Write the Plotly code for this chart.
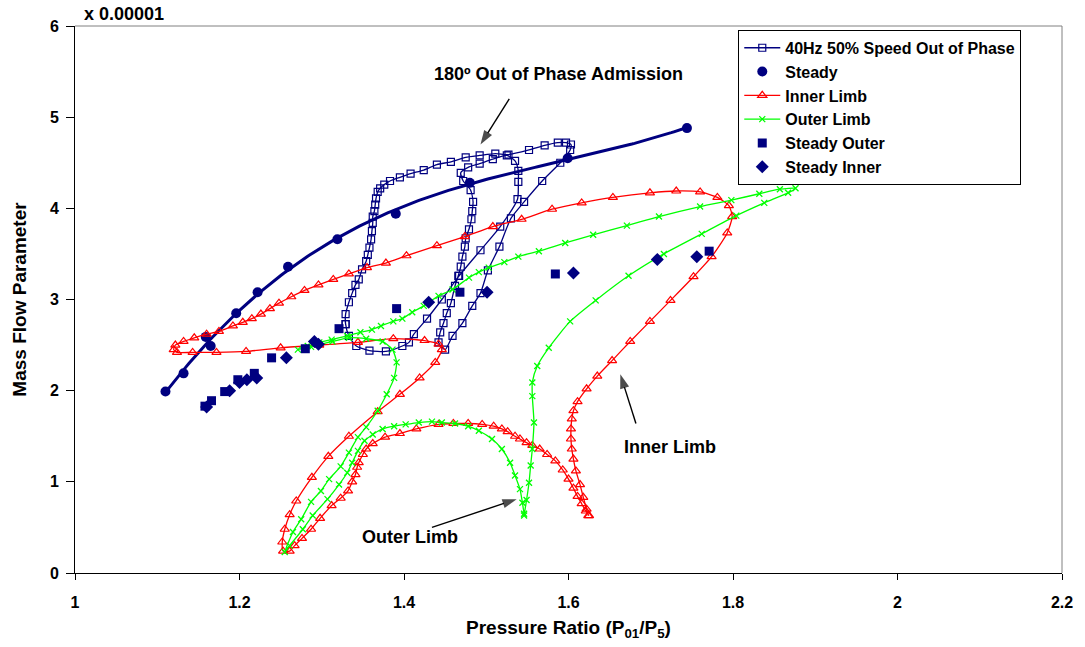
import numpy as np
import plotly.graph_objects as go

# ---------------- data ----------------
loop_x = [1.329, 1.329, 1.333, 1.337, 1.341, 1.345, 1.349, 1.354, 1.356, 1.358, 1.360, 1.361, 1.362, 1.362,
          1.364, 1.365, 1.366, 1.368, 1.371, 1.376, 1.383, 1.395, 1.408, 1.424, 1.440, 1.457, 1.475, 1.492,
          1.511, 1.527, 1.552, 1.571, 1.587, 1.597, 1.603, 1.602, 1.590, 1.568, 1.546, 1.530, 1.516, 1.502,
          1.493, 1.483, 1.471, 1.459, 1.450, 1.442, 1.444, 1.448, 1.452, 1.457, 1.462, 1.466, 1.469, 1.471,
          1.474, 1.475, 1.479, 1.482, 1.483, 1.484, 1.481, 1.472, 1.469, 1.478, 1.492, 1.508, 1.525, 1.535,
          1.539, 1.539, 1.538, 1.517, 1.493, 1.467, 1.446, 1.428, 1.412, 1.406, 1.398, 1.378, 1.358, 1.342,
          1.333, 1.329]
loop_y = [2.73, 2.84, 2.97, 3.07, 3.16, 3.22, 3.33, 3.42, 3.49, 3.57, 3.66, 3.75, 3.84, 3.91,
          3.97, 4.04, 4.11, 4.18, 4.22, 4.26, 4.30, 4.34, 4.38, 4.42, 4.48, 4.51, 4.56, 4.58,
          4.60, 4.59, 4.64, 4.69, 4.72, 4.72, 4.70, 4.64, 4.50, 4.30, 4.07, 3.89, 3.58, 3.32,
          3.07, 2.93, 2.74, 2.60, 2.45, 2.53, 2.64, 2.74, 2.85, 2.96, 3.15, 3.26, 3.36, 3.47,
          3.58, 3.67, 3.77, 3.88, 3.97, 4.07, 4.20, 4.30, 4.39, 4.45, 4.49, 4.54, 4.58, 4.52,
          4.41, 4.29, 4.10, 3.80, 3.54, 3.26, 3.00, 2.79, 2.62, 2.53, 2.49, 2.43, 2.44, 2.49,
          2.60, 2.73]

steady_x = [1.110, 1.132, 1.159, 1.165, 1.196, 1.222, 1.259, 1.319, 1.390, 1.480, 1.599, 1.744]
steady_y = [1.99, 2.19, 2.59, 2.49, 2.85, 3.08, 3.36, 3.66, 3.94, 4.28, 4.55, 4.88]

inner_x = [1.624, 1.622, 1.618, 1.614, 1.609, 1.606, 1.604, 1.603, 1.603, 1.604, 1.606, 1.611, 1.622, 1.635,
           1.653, 1.675, 1.699, 1.724, 1.752, 1.774, 1.793, 1.799, 1.795, 1.781, 1.760, 1.731, 1.699, 1.654,
           1.616, 1.580, 1.543, 1.508, 1.474, 1.440, 1.403, 1.378, 1.355, 1.333, 1.314, 1.296, 1.279, 1.263,
           1.248, 1.237, 1.226, 1.215, 1.204, 1.192, 1.175, 1.160, 1.145, 1.132, 1.122, 1.120, 1.124, 1.143,
           1.172, 1.208, 1.250, 1.297, 1.344, 1.387, 1.425, 1.442, 1.446, 1.438, 1.419, 1.395, 1.368, 1.333,
           1.308, 1.288, 1.269, 1.261, 1.255, 1.252, 1.253, 1.261, 1.267, 1.276, 1.287, 1.298, 1.312, 1.323,
           1.332, 1.337, 1.341, 1.343, 1.345, 1.350, 1.354, 1.362, 1.377, 1.395, 1.415, 1.442, 1.460, 1.478,
           1.495, 1.509, 1.519, 1.526, 1.535, 1.541, 1.549, 1.556, 1.565, 1.574, 1.584, 1.593, 1.600, 1.606,
           1.611, 1.616, 1.621, 1.625]
inner_y = [0.63, 0.70, 0.83, 0.97, 1.12, 1.25, 1.36, 1.47, 1.58, 1.69, 1.78, 1.88, 2.02, 2.16,
           2.33, 2.54, 2.76, 2.99, 3.25, 3.47, 3.73, 3.91, 4.03, 4.12, 4.18, 4.19, 4.17, 4.12,
           4.06, 3.99, 3.88, 3.80, 3.69, 3.59, 3.48, 3.40, 3.35, 3.28, 3.22, 3.16, 3.10, 3.03,
           2.96, 2.90, 2.84, 2.79, 2.75, 2.71, 2.65, 2.62, 2.58, 2.54, 2.50, 2.45, 2.42, 2.42,
           2.42, 2.43, 2.47, 2.50, 2.53, 2.57, 2.55, 2.51, 2.45, 2.31, 2.14, 1.96, 1.77, 1.50,
           1.28, 1.05, 0.79, 0.64, 0.48, 0.34, 0.24, 0.24, 0.30, 0.38, 0.48, 0.60, 0.74, 0.82,
           0.90, 1.00, 1.08, 1.16, 1.21, 1.30, 1.36, 1.42, 1.49, 1.53, 1.58, 1.63, 1.64, 1.64,
           1.63, 1.61, 1.58, 1.55, 1.50, 1.47, 1.43, 1.40, 1.36, 1.30, 1.23, 1.13, 1.03, 0.93,
           0.84, 0.76, 0.68, 0.63]

outer_x = [1.546, 1.549, 1.552, 1.554, 1.556, 1.558, 1.556, 1.556, 1.562, 1.576, 1.602, 1.633, 1.673, 1.716,
           1.762, 1.804, 1.838, 1.867, 1.876, 1.857, 1.832, 1.798, 1.760, 1.710, 1.671, 1.630, 1.596, 1.564,
           1.539, 1.522, 1.503, 1.491, 1.479, 1.459, 1.442, 1.424, 1.410, 1.398, 1.387, 1.372, 1.361, 1.347,
           1.331, 1.312, 1.297, 1.283, 1.271, 1.287, 1.313, 1.333, 1.354, 1.374, 1.386, 1.391, 1.388, 1.379,
           1.368, 1.354, 1.344, 1.333, 1.323, 1.309, 1.299, 1.287, 1.275, 1.265, 1.255, 1.261, 1.277, 1.289,
           1.307, 1.321, 1.331, 1.337, 1.344, 1.352, 1.362, 1.374, 1.388, 1.402, 1.418, 1.434, 1.446, 1.462,
           1.478, 1.491, 1.507, 1.519, 1.529, 1.535, 1.541, 1.544, 1.546]
outer_y = [0.63, 0.80, 0.99, 1.18, 1.36, 1.65, 1.94, 2.09, 2.27, 2.47, 2.76, 2.99, 3.26, 3.50,
           3.72, 3.92, 4.06, 4.17, 4.22, 4.21, 4.16, 4.09, 4.02, 3.91, 3.81, 3.71, 3.62, 3.53,
           3.47, 3.41, 3.35, 3.30, 3.24, 3.11, 3.04, 2.93, 2.86, 2.79, 2.76, 2.71, 2.67, 2.64,
           2.60, 2.56, 2.53, 2.49, 2.45, 2.48, 2.54, 2.58, 2.57, 2.54, 2.45, 2.31, 2.14, 1.96,
           1.78, 1.60, 1.49, 1.32, 1.17, 1.03, 0.90, 0.78, 0.59, 0.45, 0.23, 0.30, 0.48, 0.63,
           0.81, 0.97, 1.10, 1.21, 1.34, 1.45, 1.52, 1.58, 1.61, 1.63, 1.65, 1.66, 1.65, 1.64,
           1.61, 1.56, 1.47, 1.36, 1.21, 1.07, 0.92, 0.77, 0.65]

steady_outer_x = [1.158, 1.166, 1.182, 1.198, 1.218, 1.239, 1.280, 1.321, 1.391, 1.468, 1.584, 1.771]
steady_outer_y = [1.83, 1.89, 1.99, 2.12, 2.19, 2.36, 2.46, 2.68, 2.90, 3.08, 3.28, 3.53]

steady_inner_x = [1.160, 1.188, 1.200, 1.209, 1.221, 1.257, 1.291, 1.296, 1.430, 1.501, 1.606, 1.708, 1.756]
steady_inner_y = [1.82, 2.00, 2.09, 2.12, 2.14, 2.36, 2.54, 2.51, 2.97, 3.08, 3.29, 3.44, 3.47]

x_ticks = [1, 1.2, 1.4, 1.6, 1.8, 2, 2.2]
x_tick_text = ["1", "1.2", "1.4", "1.6", "1.8", "2", "2.2"]
y_ticks = [0, 1, 2, 3, 4, 5, 6]

# annotation arrows: (tail, head)
arrow_180 = ([1.528, 1.493], [5.20, 4.70])
arrow_inner = ([1.682, 1.663], [1.64, 2.18])
arrow_outer = ([1.434, 1.537], [0.50, 0.81])

# ---------------- figure ----------------
NAVY = "#000080"
RED = "#FF0000"
GREEN = "#00FF00"
FONT = "Arial, Liberation Sans, sans-serif"

fig = go.Figure()

fig.add_trace(go.Scatter(
    x=loop_x, y=loop_y, name="40Hz 50% Speed Out of Phase", mode="lines+markers",
    line=dict(color=NAVY, width=1.3, shape="spline", smoothing=0.6),
    marker=dict(symbol="square-open", size=7, color=NAVY, line=dict(width=1.2, color=NAVY)),
))

fig.add_trace(go.Scatter(
    x=steady_x, y=steady_y, name="Steady", mode="markers",
    marker=dict(symbol="circle", size=10, color=NAVY),
))

# trendline through the steady points
coef = np.polyfit(steady_x, steady_y, 3)
tx = np.linspace(min(steady_x), max(steady_x), 200)
fig.add_trace(go.Scatter(
    x=tx, y=np.polyval(coef, tx), mode="lines", showlegend=False, hoverinfo="skip",
    line=dict(color=NAVY, width=3),
))

fig.add_trace(go.Scatter(
    x=inner_x, y=inner_y, name="Inner Limb", mode="lines+markers",
    line=dict(color=RED, width=1.3, shape="spline", smoothing=0.6),
    marker=dict(symbol="triangle-up-open", size=8, color=RED, line=dict(width=1.2, color=RED)),
))

fig.add_trace(go.Scatter(
    x=outer_x, y=outer_y, name="Outer Limb", mode="lines+markers",
    line=dict(color=GREEN, width=1.3, shape="spline", smoothing=0.6),
    marker=dict(symbol="x-thin-open", size=6, color=GREEN, line=dict(width=1.3, color=GREEN)),
))

fig.add_trace(go.Scatter(
    x=steady_outer_x, y=steady_outer_y, name="Steady Outer", mode="markers",
    marker=dict(symbol="square", size=9, color=NAVY),
))

fig.add_trace(go.Scatter(
    x=steady_inner_x, y=steady_inner_y, name="Steady Inner", mode="markers",
    marker=dict(symbol="diamond", size=10, color=NAVY),
))

# arrows drawn as line + arrow-head marker
for ax_, ay_ in (arrow_180, arrow_inner, arrow_outer):
    fig.add_trace(go.Scatter(
        x=ax_, y=ay_, mode="lines+markers", showlegend=False, hoverinfo="skip",
        line=dict(color="black", width=1.4),
        marker=dict(symbol="arrow", size=[0, 15], angleref="previous", color="black",
                    line=dict(width=0)),
    ))

fig.update_layout(
    width=1085, height=647,
    margin=dict(l=75, r=20, t=26, b=73),
    plot_bgcolor="white", paper_bgcolor="white",
    font=dict(family=FONT, size=15, color="black", weight="bold"),
    legend=dict(
        x=0.672, y=0.993, xanchor="left", yanchor="top",
        bgcolor="white", bordercolor="black", borderwidth=1,
        font=dict(family=FONT, size=16, color="black", weight="bold"),
        itemwidth=36, tracegroupgap=0,
    ),
    xaxis=dict(
        range=[1, 2.2], tickvals=x_ticks, ticktext=x_tick_text,
        showgrid=False, zeroline=False, showline=True, linecolor="black", linewidth=1,
        ticks="outside", ticklen=6, tickcolor="black", ticklabelstandoff=9,
        tickfont=dict(size=16, weight="bold"),
        title=dict(text="Pressure Ratio (P<sub>01</sub>/P<sub>5</sub>)", standoff=10,
                   font=dict(size=19, weight="bold")),
    ),
    yaxis=dict(
        range=[0, 6], tickvals=y_ticks,
        showgrid=False, zeroline=False, showline=True, linecolor="black", linewidth=1,
        ticks="outside", ticklen=8, tickcolor="black", ticklabelstandoff=4,
        tickfont=dict(size=16, weight="bold"),
        title=dict(text="Mass Flow Parameter", standoff=18, font=dict(size=19, weight="bold")),
    ),
)

# plot-area border (top / right, gray)
fig.add_shape(type="line", xref="x domain", yref="y domain", x0=0, x1=1, y0=1, y1=1,
              line=dict(color="#808080", width=1))
fig.add_shape(type="line", xref="x domain", yref="y domain", x0=1, x1=1, y0=0, y1=1,
              line=dict(color="#808080", width=1))

# text annotations
fig.add_annotation(text="x 0.00001", xref="paper", yref="paper", x=0.007, y=1.022,
                   xanchor="left", yanchor="middle", showarrow=False,
                   font=dict(size=18, weight="bold"))
fig.add_annotation(text="180º Out of Phase Admission", x=1.588, y=5.475, showarrow=False,
                   font=dict(size=18, weight="bold"))
fig.add_annotation(text="Inner Limb", x=1.724, y=1.38, showarrow=False,
                   font=dict(size=18, weight="bold"))
fig.add_annotation(text="Outer Limb", x=1.407, y=0.39, showarrow=False,
                   font=dict(size=18, weight="bold"))

fig.write_html("out.html")
